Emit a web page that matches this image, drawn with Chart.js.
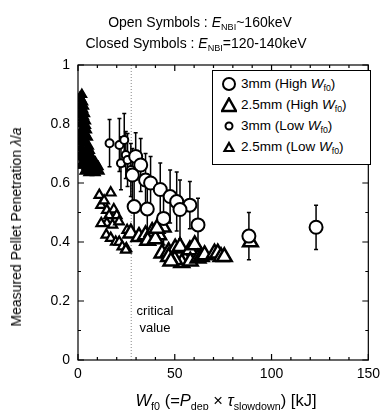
<!DOCTYPE html>
<html>
<head>
<meta charset="utf-8">
<script src="https://cdn.jsdelivr.net/npm/chart.js@4.4.1/dist/chart.umd.min.js"></script>
<style>
body { margin: 0; background: #fff; }
#wrap { position: relative; width: 386px; height: 410px; font-family: Arial, "Liberation Sans", sans-serif; color: #000; }
#wrap canvas { position: absolute; left: 0; top: 0; }
.t { position: absolute; white-space: nowrap; line-height: 1; }
.s { font-size: 65%; position: relative; top: 0.35em; }
#leg { position: absolute; left: 212px; top: 70px; width: 157px; height: 93px; border: 1.5px solid #000; background: #fff; }
#leg div { position: absolute; left: 8px; font-size: 13.5px; white-space: nowrap; }
#leg svg { vertical-align: middle; margin-right: 4px; }
</style>
</head>
<body>
<div id="wrap">
  <canvas id="myChart" width="386" height="410"></canvas>
  <div class="t" style="left:200px;top:15px;transform:translateX(-50%);font-size:14px">Open Symbols : <i>E</i><span class="s">NBI</span>~160keV</div>
  <div class="t" style="left:196px;top:36px;transform:translateX(-50%);font-size:14px">Closed Symbols : <i>E</i><span class="s">NBI</span>=120-140keV</div>
  <div class="t" style="left:16px;top:227px;transform:translate(-50%,-50%) rotate(-90deg);font-size:14px">Measured Pellet Penetration <i>λ</i>/<i>a</i></div>
  <div class="t" style="left:226px;top:392px;transform:translateX(-50%);font-size:16.5px"><i>W</i><span class="s">f0</span> (=<i>P</i><span class="s">dep</span> × <i>τ</i><span class="s">slowdown</span>) [kJ]</div>
  <div class="t" style="left:155px;top:302px;transform:translateX(-50%);font-size:13px;text-align:center;line-height:17px">critical<br>value</div>
  <div id="leg">
    <div style="top:5px"><svg width="16" height="16"><circle cx="8" cy="8" r="6" fill="#fff" stroke="#000" stroke-width="2"/></svg>3mm (High <i>W</i><span class="s">f0</span>)</div>
    <div style="top:26px"><svg width="16" height="16"><polygon points="8,1.5 15,14 1,14" fill="#fff" stroke="#000" stroke-width="2.5"/></svg>2.5mm (High <i>W</i><span class="s">f0</span>)</div>
    <div style="top:47px"><svg width="16" height="16"><circle cx="8" cy="8" r="3.5" fill="#fff" stroke="#000" stroke-width="2"/></svg>3mm (Low <i>W</i><span class="s">f0</span>)</div>
    <div style="top:68px"><svg width="16" height="16"><polygon points="8,4 12.5,12 3.5,12" fill="#fff" stroke="#000" stroke-width="2.2"/></svg>2.5mm (Low <i>W</i><span class="s">f0</span>)</div>
  </div>
</div>
<script>
// 3mm, high Wf0 (big circles)
let bigCircX = [29.8, 32.4, 28.1, 34.9, 37.5, 42.5, 47.6, 51, 57.8, 29, 35.8, 44.2, 52.7, 62, 88.3, 123];
let bigCircY = [0.69, 0.661, 0.627, 0.61, 0.6, 0.578, 0.554, 0.537, 0.525, 0.52, 0.512, 0.48, 0.51, 0.458, 0.42, 0.45];
let bigCircErr = [0.08, 0.09, 0.09, 0.09, 0.09, 0.09, 0.09, 0.1, 0.08, 0.1, 0.1, 0.09, 0.1, 0.09, 0.08, 0.075];

// 3mm, low Wf0 (small circles)
let smCircX = [16.3, 21.4, 23.9, 24.7, 22.2, 25.6, 27.3];
let smCircY = [0.735, 0.729, 0.746, 0.695, 0.667, 0.678, 0.644];
let smCircErr = [0.08, 0.09, 0.09, 0.08, 0.09, 0.09, 0.09];

// 2.5mm, high Wf0 (big triangles)
let bigTriX = [27.3, 31.5, 34.9, 38.3, 41.7, 44, 36, 40, 40.8, 43.4, 46.8, 50.2, 52.7, 55.3, 57.8, 60.3, 53.6, 50, 46.8, 48, 58, 62, 63.7, 65.4, 70.5, 72.2, 73.9, 75.6, 89.1];
let bigTriY = [0.43, 0.418, 0.424, 0.435, 0.424, 0.45, 0.405, 0.41, 0.446, 0.362, 0.367, 0.379, 0.384, 0.339, 0.373, 0.39, 0.33, 0.34, 0.35, 0.335, 0.335, 0.345, 0.35, 0.356, 0.362, 0.362, 0.35, 0.35, 0.4];

// 2.5mm, low Wf0 (small triangles, open)
let smTriX = [11, 16.9, 11.9, 13.5, 14.9, 18.5, 16.1, 20, 14.9, 17.8, 21.2, 12, 14.6, 16.9, 19.5, 21.3, 22.9, 25, 25.4, 24.7];
let smTriY = [0.559, 0.567, 0.525, 0.54, 0.508, 0.51, 0.49, 0.49, 0.464, 0.458, 0.469, 0.463, 0.424, 0.413, 0.4, 0.4, 0.384, 0.378, 0.44, 0.373];

// 2.5mm, low Wf0, closed (dense cluster near zero)
let clTriX = [2, 1.5, 2.5, 1, 3, 2, 1, 3.5, 2.5, 1.5, 4, 3, 1.5, 4.5, 3, 5, 2, 4, 5.5, 2.5, 4.5, 6, 3, 5, 7, 2.5, 4.5, 6.5, 8.5, 3.5, 5.5, 7.5, 10, 2, 1.5, 2,
              1, 6.5, 7.5, 9, 10.5, 11, 9, 5, 6, 3.5, 4, 3, 2.5, 1, 1, 1.5, 4, 6];
let clTriY = [0.9, 0.885, 0.875, 0.86, 0.86, 0.845, 0.83, 0.835, 0.82, 0.8, 0.81, 0.79, 0.775, 0.78, 0.76, 0.755, 0.74, 0.735, 0.725, 0.71, 0.705, 0.7, 0.685, 0.68, 0.675, 0.66, 0.655, 0.655, 0.655, 0.64, 0.635, 0.64, 0.645, 0.77, 0.72, 0.7,
              0.89, 0.69, 0.665, 0.67, 0.655, 0.64, 0.635, 0.72, 0.71, 0.77, 0.795, 0.825, 0.85, 0.75, 0.69, 0.66, 0.665, 0.645];

let criticalW = 27.5;

function pts(xs, ys) {
    return xs.map((x, i) => ({ x: x, y: ys[i] }));
}

const errorBars = {
    id: 'errorBars',
    beforeDatasetsDraw(chart) {
        const ctx = chart.ctx;
        const x = chart.scales.x, y = chart.scales.y;
        const a = chart.chartArea;
        // critical value line
        ctx.save();
        ctx.strokeStyle = '#888';
        ctx.lineWidth = 1;
        ctx.setLineDash([1, 2]);
        ctx.beginPath();
        ctx.moveTo(x.getPixelForValue(criticalW), a.top);
        ctx.lineTo(x.getPixelForValue(criticalW), a.bottom);
        ctx.stroke();
        ctx.setLineDash([]);
        ctx.strokeStyle = '#000';
        ctx.lineWidth = 1.5;
        chart.data.datasets.forEach(ds => {
            if (!ds.errs) return;
            ds.data.forEach((p, i) => {
                const px = x.getPixelForValue(p.x);
                const top = y.getPixelForValue(p.y + ds.errs[i]);
                const bot = y.getPixelForValue(p.y - ds.errs[i]);
                ctx.beginPath();
                ctx.moveTo(px, top); ctx.lineTo(px, bot);
                ctx.moveTo(px - 2, top); ctx.lineTo(px + 2, top);
                ctx.moveTo(px - 2, bot); ctx.lineTo(px + 2, bot);
                ctx.stroke();
            });
        });
        ctx.restore();
    }
};

const frame = {
    id: 'frame',
    afterDatasetsDraw(chart) {
        const ctx = chart.ctx;
        const a = chart.chartArea;
        const x = chart.scales.x, y = chart.scales.y;
        ctx.save();
        ctx.strokeStyle = '#000';
        ctx.lineWidth = 1.2;
        ctx.strokeRect(a.left, a.top, a.right - a.left, a.bottom - a.top);
        ctx.beginPath();
        for (let v = 0; v <= 150; v += 10) {
            let px = x.getPixelForValue(v);
            let len = v % 50 == 0 ? 6 : 3;
            ctx.moveTo(px, a.bottom); ctx.lineTo(px, a.bottom - len);
            ctx.moveTo(px, a.top); ctx.lineTo(px, a.top + len);
        }
        for (let k = 0; k <= 10; k++) {
            let py = y.getPixelForValue(k / 10);
            let len = k % 2 == 0 ? 6 : 3;
            ctx.moveTo(a.left, py); ctx.lineTo(a.left + len, py);
            ctx.moveTo(a.right, py); ctx.lineTo(a.right - len, py);
        }
        ctx.stroke();
        ctx.restore();
    }
};

new Chart("myChart", {
    type: "scatter",
    data: {
        datasets: [{
            data: pts(bigCircX, bigCircY), errs: bigCircErr,
            pointStyle: 'circle', pointRadius: 6.5, borderWidth: 2,
            borderColor: '#000', backgroundColor: '#fff'
        }, {
            data: pts(smCircX, smCircY), errs: smCircErr,
            pointStyle: 'circle', pointRadius: 4, borderWidth: 2,
            borderColor: '#000', backgroundColor: '#fff'
        }, {
            data: pts(bigTriX, bigTriY),
            pointStyle: 'triangle', pointRadius: 8.5, borderWidth: 2.5,
            borderColor: '#000', backgroundColor: '#fff'
        }, {
            data: pts(smTriX, smTriY),
            pointStyle: 'triangle', pointRadius: 5.5, borderWidth: 2.2,
            borderColor: '#000', backgroundColor: '#fff'
        }, {
            data: pts(clTriX, clTriY),
            pointStyle: 'triangle', pointRadius: 5.5, borderWidth: 1.5,
            borderColor: '#000', backgroundColor: '#000'
        }]
    },
    options: {
        responsive: false,
        animation: false,
        events: [],
        layout: { padding: { left: 0, top: 65, right: 13, bottom: 0 } },
        plugins: { legend: { display: false }, tooltip: { enabled: false } },
        scales: {
            x: {
                min: 0, max: 150,
                grid: { display: false, drawTicks: false },
                border: { display: false },
                ticks: { stepSize: 50, padding: 6, color: '#000', font: { size: 14, family: 'Arial, "Liberation Sans", sans-serif' } },
                afterFit: s => { s.height = 50; }
            },
            y: {
                min: 0, max: 1,
                grid: { display: false, drawTicks: false },
                border: { display: false },
                ticks: {
                    stepSize: 0.2, padding: 8, color: '#000',
                    font: { size: 14, family: 'Arial, "Liberation Sans", sans-serif' },
                    callback: v => (v == 0 || v == 1) ? String(v) : v.toFixed(1)
                },
                afterFit: s => { s.width = 78; }
            }
        }
    },
    plugins: [errorBars, frame]
});
</script>
</body>
</html>
